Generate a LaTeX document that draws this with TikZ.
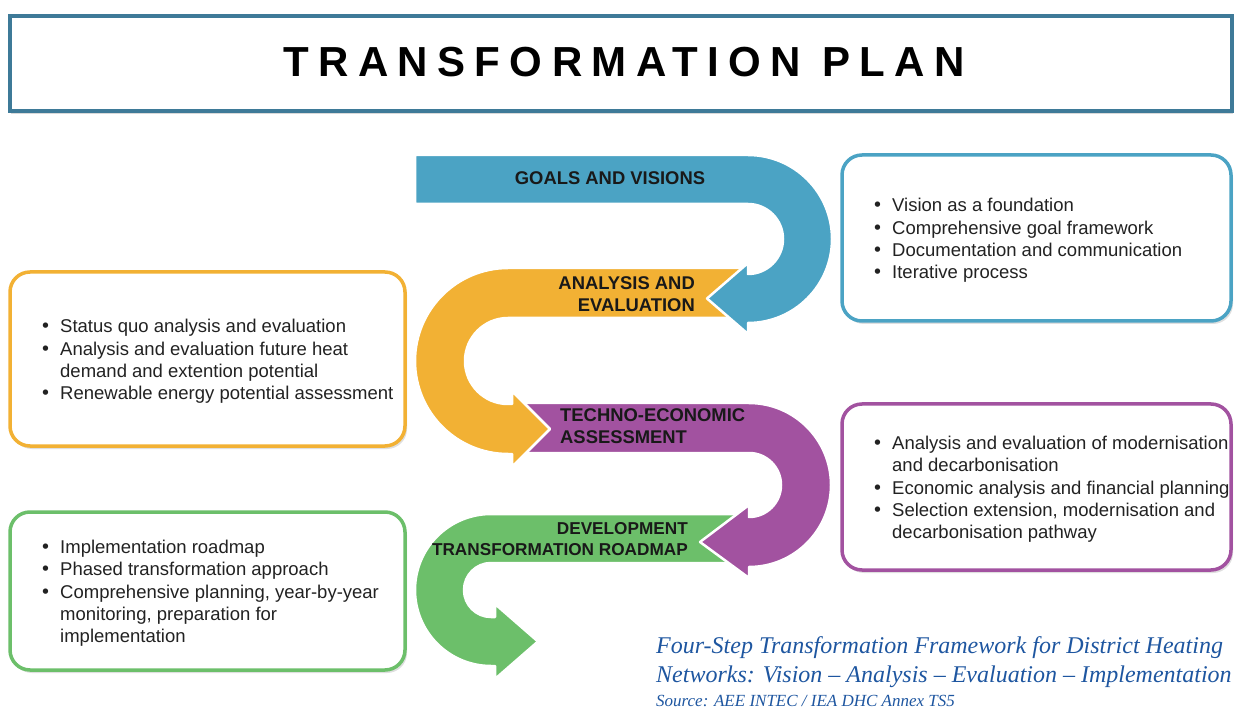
\documentclass[tikz,border=0pt]{standalone}
\usepackage{fontspec}
\setmainfont{Liberation Sans}
\newfontfamily\capfont{Liberation Serif}
\newfontfamily\bulfont{DejaVu Sans}
\usepackage{tikz}
\usetikzlibrary{positioning, shadows}

\definecolor{goalblue}{RGB}{75,163,196}
\definecolor{analysisorange}{RGB}{242,177,52}
\definecolor{technopurple}{RGB}{162,82,160}
\definecolor{roadgreen}{RGB}{108,191,106}
\definecolor{titleframe}{RGB}{62,122,152}
\definecolor{captionblue}{RGB}{30,86,160}
\definecolor{bodytext}{RGB}{34,34,34}

\tikzstyle{infobox} = [rectangle, rounded corners=20pt, line width=3.5pt, fill=white, inner sep=0pt, outer sep=0pt, drop shadow={opacity=0.25, shadow xshift=2pt, shadow yshift=-3pt}]
\tikzstyle{boxtext} = [align=left, inner sep=0pt, yshift=-2.5pt, text=bodytext, font=\fontsize{18.5}{22.3}\selectfont]
\tikzstyle{steplabel} = [inner sep=0pt, text=black!90, font=\fontsize{18.4}{22}\selectfont\bfseries]
\tikzstyle{band} = [draw=white, line width=2.5pt, line join=round]

\newcommand{\bul}[1]{\makebox[20pt][l]{\bulfont\textbullet}#1}
\newcommand{\cont}[1]{\hspace*{20pt}#1}

\begin{document}
\begin{tikzpicture}[x=1pt, y=-1pt]
    \useasboundingbox (0,0) rectangle (1235,711);

    % title
    \node (titlebox) [rectangle, draw=titleframe, line width=4pt, fill=white, minimum width=1222pt, minimum height=95pt, drop shadow={opacity=0.3, shadow xshift=1pt, shadow yshift=-3pt}] at (621,63.5) {};
    \node (titletext) [inner sep=0pt, font=\fontsize{42}{48}\selectfont\bfseries\addfontfeature{LetterSpace=22.3}] at (624,62) {TRANSFORMATION PLAN};

    % serpentine, last step first
    \path[band, fill=roadgreen] (740,514) -- (491,514) arc[start angle=-90, end angle=-270, radius=76] -- (495,666) -- (495,679) -- (538,641.5) -- (495,604) -- (495,617) -- (491,617) arc[start angle=90, end angle=270, radius=27] -- (740,563) -- cycle;
    \path[band, fill=technopurple] (520,403) -- (749,403) arc[start angle=-90, end angle=90, radius=82] -- (749,578) -- (700,542) -- (749,505) -- (749,517) arc[start angle=90, end angle=-90, radius=32] -- (520,453) -- cycle;
    \path[band, fill=analysisorange] (740,268) -- (508,268) arc[start angle=-90, end angle=-270, radius=93] -- (512,454) -- (512,467) -- (550,429) -- (512,391) -- (512,404) -- (508,404) arc[start angle=90, end angle=270, radius=43] -- (740,318) -- cycle;
    \path[band, fill=goalblue] (415,155) -- (748,155) arc[start angle=-90, end angle=90, radius=84] -- (748,334) -- (707,298.5) -- (748,263) -- (748,274) arc[start angle=90, end angle=-90, radius=35] -- (415,204) -- cycle;

    \node (goalslabel) [steplabel, anchor=base] at (610,185) {GOALS AND VISIONS};
    \node (analysislabel) [steplabel, anchor=east, align=right] at (695,294.5) {ANALYSIS AND\\EVALUATION};
    \node (technolabel) [steplabel, anchor=west, align=left] at (560,426) {TECHNO-ECONOMIC\\ASSESSMENT};
    \node (roadmaplabel) [steplabel, anchor=east, align=right, font=\fontsize{17.2}{21}\selectfont\bfseries] at (688,539.5) {DEVELOPMENT\\TRANSFORMATION ROADMAP};

    % boxes
    \node (goalsbox) [infobox, draw=goalblue, minimum width=389pt, minimum height=166pt] at (1036.5,238) {};
    \node (goalstext) [boxtext, right=30pt of goalsbox.west] {\bul{Vision as a foundation}\\\bul{Comprehensive goal framework}\\\bul{Documentation and communication}\\\bul{Iterative process}};

    \node (analysisbox) [infobox, draw=analysisorange, minimum width=395pt, minimum height=174pt] at (207.5,359) {};
    \node (analysistext) [boxtext, right=30pt of analysisbox.west] {\bul{Status quo analysis and evaluation}\\\bul{Analysis and evaluation future heat}\\\cont{demand and extention potential}\\\bul{Renewable energy potential assessment}};

    \node (technobox) [infobox, draw=technopurple, minimum width=389pt, minimum height=166pt] at (1036.5,487) {};
    \node (technotext) [boxtext, right=30pt of technobox.west] {\bul{Analysis and evaluation of modernisation}\\\cont{and decarbonisation}\\\bul{Economic analysis and financial planning}\\\bul{Selection extension, modernisation and}\\\cont{decarbonisation pathway}};

    \node (roadmapbox) [infobox, draw=roadgreen, minimum width=395pt, minimum height=158pt] at (207.5,591) {};
    \node (roadmaptext) [boxtext, right=30pt of roadmapbox.west] {\bul{Implementation roadmap}\\\bul{Phased transformation approach}\\\bul{Comprehensive planning, year-by-year}\\\cont{monitoring, preparation for}\\\cont{implementation}};

    % caption
    \node (caption) [anchor=north west, inner sep=0pt, align=left, text=captionblue, font=\capfont\itshape\fontsize{24}{29}\selectfont] at (656,636) {Four-Step Transformation Framework for District Heating\\Networks: Vision – Analysis – Evaluation – Implementation};
    \node (source) [anchor=north west, inner sep=0pt, text=captionblue, font=\capfont\itshape\fontsize{17}{20}\selectfont] at (656,695) {Source: AEE INTEC / IEA DHC Annex TS5};
\end{tikzpicture}
\end{document}
